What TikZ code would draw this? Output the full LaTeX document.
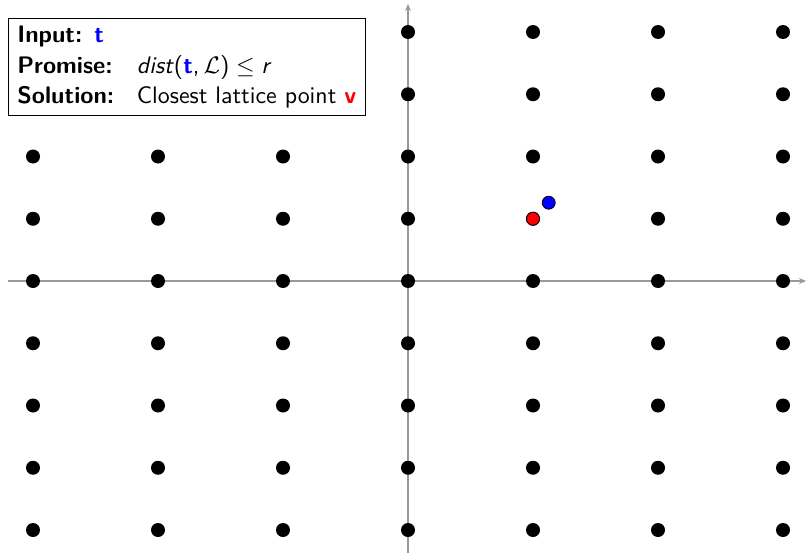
\documentclass[tikz,border=0pt]{standalone}
\usetikzlibrary{arrows.meta}
\begin{document}
\begin{tikzpicture}[x=1pt,y=-1pt,
  latt/.style={circle, fill=black, minimum size=14pt, inner sep=0pt},
  special/.style={circle, draw=black, line width=0.8pt, minimum size=13pt, inner sep=0pt},
  axis/.style={draw=gray!80, line width=1.1pt, -{Stealth[length=7pt,width=6pt]}},
  infobox/.style={draw=black, fill=white, line width=0.7pt, anchor=north west, inner xsep=9pt, inner ysep=3pt, font=\sffamily}
]
\useasboundingbox (0,0) rectangle (806,554);
% axes
\coordinate (xl) at (8,281);
\coordinate (xr) at (806,281);
\coordinate (yb) at (408,553);
\coordinate (yt) at (408,4);
\draw[axis] (xl) -- (xr);
\draw[axis] (yb) -- (yt);
% lattice
\foreach \i in {-3,...,3}{
  \foreach \j in {-4,...,4}{
    \node[latt] (p\i\j) at ({408+125*\i},{281+62.25*\j}) {};
  }
}
% closest point and target
\node[special, fill=red] (v) at (533,218.75) {};
\node[special, fill=blue] (t) at (548.7,202.7) {};
% info box
\node[infobox] (box) at (8,18) {\scalebox{2.39}{\fontsize{10}{12.76}\selectfont
\begin{tabular}{@{}l@{\hspace{9.5pt}}l@{}}
\multicolumn{2}{@{}l@{}}{\textbf{Input:}\hspace{5pt}\textcolor{blue}{\textbf{t}}}\\
\textbf{Promise:} & \textit{dist}(\textcolor{blue}{\textbf{t}},\hspace{1.7pt}$\mathcal{L}$)\hspace{2.8pt}$\leq$\hspace{2.8pt}\textit{r}\\
\textbf{Solution:} & Closest lattice point \textcolor{red}{\textbf{v}}
\end{tabular}}};
\end{tikzpicture}
\end{document}
